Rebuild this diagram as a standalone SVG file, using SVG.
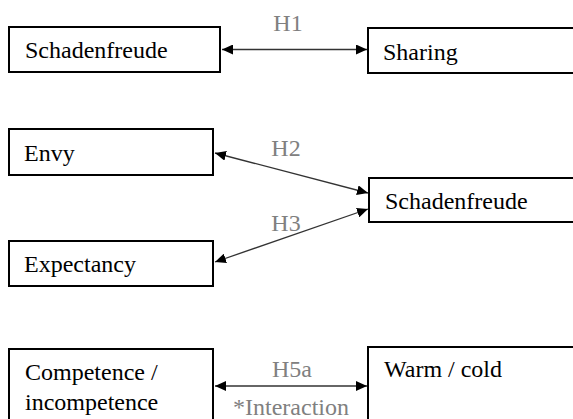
<svg xmlns="http://www.w3.org/2000/svg" width="573" height="419" viewBox="0 0 573 419">
<style>
.box{fill:#fff;stroke:#000;stroke-width:2}
.t{font-family:"Liberation Serif","Times New Roman",serif;font-size:24px;fill:#000}
.lbl{font-family:"Liberation Serif","Times New Roman",serif;font-size:24px;fill:#808080;text-anchor:middle}
.c{stroke:#333;stroke-width:1.3;fill:none;marker-start:url(#ah);marker-end:url(#ah)}
</style>
<defs>
<marker id="ah" viewBox="0 0 11 10" refX="11" refY="5" markerWidth="11" markerHeight="10" markerUnits="userSpaceOnUse" orient="auto-start-reverse">
<path d="M0,0 L11,5 L0,10 z" fill="#000"/>
</marker>
</defs>
<rect width="573" height="419" fill="#fff"/>
<g id="n-schadenfreude1"><rect class="box" x="9" y="27" width="211" height="45"/><text class="t" x="25" y="58">Schadenfreude</text></g>
<g id="n-sharing"><rect class="box" x="368" y="28" width="220" height="45"/><text class="t" x="383" y="60">Sharing</text></g>
<g id="n-envy"><rect class="box" x="9" y="129" width="204" height="46"/><text class="t" x="24" y="161">Envy</text></g>
<g id="n-expectancy"><rect class="box" x="9" y="241" width="204" height="45"/><text class="t" x="24" y="272">Expectancy</text></g>
<g id="n-schadenfreude2"><rect class="box" x="369" y="178" width="220" height="44"/><text class="t" x="385" y="209">Schadenfreude</text></g>
<g id="n-competence"><rect class="box" x="9" y="349" width="204" height="90"/><text class="t" x="25" y="380">Competence /</text><text class="t" x="25" y="410">incompetence</text></g>
<g id="n-warm"><rect class="box" x="368" y="347" width="220" height="90"/><text class="t" x="384" y="377">Warm / cold</text></g>
<g id="connectors">
<line class="c" x1="222" y1="49.5" x2="367" y2="49.5"/>
<line class="c" x1="215" y1="153" x2="368" y2="193"/>
<line class="c" x1="215" y1="262" x2="368" y2="209"/>
<line class="c" x1="215" y1="386" x2="367" y2="386"/>
<text class="lbl" x="288" y="31">H1</text>
<text class="lbl" x="286" y="156">H2</text>
<text class="lbl" x="286" y="231">H3</text>
<text class="lbl" x="292" y="377">H5a</text>
<text class="lbl" x="291" y="415">*Interaction</text>
</g>
</svg>
